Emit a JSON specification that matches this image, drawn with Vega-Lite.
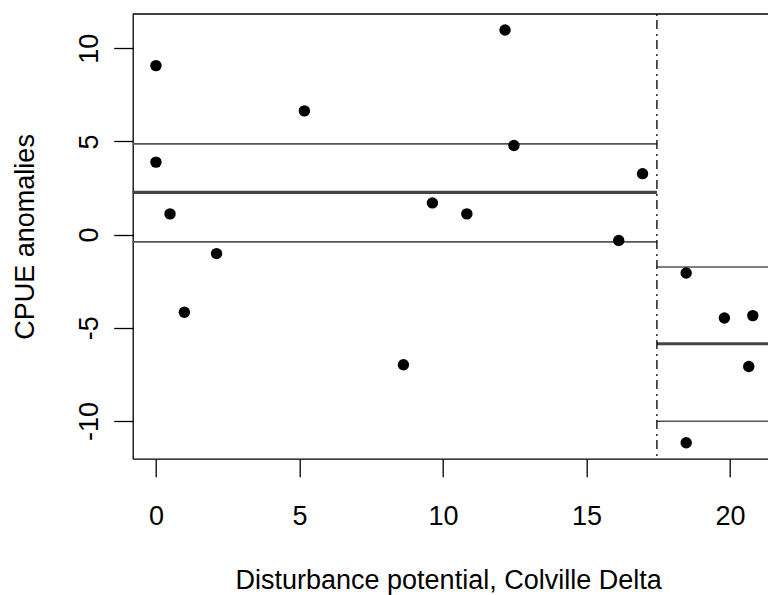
{
  "$schema": "https://vega.github.io/schema/vega-lite/v6.json",
  "width": 635.3,
  "height": 444.7,
  "autosize": "none",
  "padding": {"left": 132.7, "top": 14, "right": 0, "bottom": 136.3},
  "background": "white",
  "config": {
    "view": {"stroke": null},
    "font": "Liberation Sans",
    "axis": {
      "grid": false,
      "domainColor": "black",
      "domainWidth": 1.3,
      "tickColor": "black",
      "tickWidth": 1.3,
      "labelColor": "black",
      "labelFontSize": 27,
      "labelFlush": false,
      "labelOverlap": false,
      "titleColor": "black",
      "titleFontSize": 27,
      "titleFontWeight": "normal"
    }
  },
  "datasets": {
    "points": [
      {"potential": 0.0, "cpue": 9.07},
      {"potential": 0.0, "cpue": 3.89},
      {"potential": 0.49, "cpue": 1.11},
      {"potential": 0.99, "cpue": -4.17},
      {"potential": 2.11, "cpue": -1.02},
      {"potential": 5.17, "cpue": 6.64},
      {"potential": 8.62, "cpue": -6.99},
      {"potential": 9.63, "cpue": 1.70},
      {"potential": 10.83, "cpue": 1.11},
      {"potential": 12.16, "cpue": 10.98},
      {"potential": 12.47, "cpue": 4.78},
      {"potential": 16.12, "cpue": -0.32},
      {"potential": 16.95, "cpue": 3.27},
      {"potential": 18.47, "cpue": -2.06},
      {"potential": 18.47, "cpue": -11.17},
      {"potential": 19.80, "cpue": -4.48},
      {"potential": 20.65, "cpue": -7.08},
      {"potential": 20.79, "cpue": -4.35}
    ],
    "segments": [
      {"period": "before", "stat": "mean", "from": -0.81, "to": 17.45, "value": 2.27},
      {"period": "before", "stat": "bound", "from": -0.81, "to": 17.45, "value": 4.87},
      {"period": "before", "stat": "bound", "from": -0.81, "to": 17.45, "value": -0.39},
      {"period": "after", "stat": "mean", "from": 17.45, "to": 21.32, "value": -5.86},
      {"period": "after", "stat": "bound", "from": 17.45, "to": 21.32, "value": -1.74},
      {"period": "after", "stat": "bound", "from": 17.45, "to": 21.32, "value": -10.02}
    ],
    "breaks": [{"potential": 17.45}],
    "frame": [{"cpue": 11.84}]
  },
  "layer": [
    {
      "data": {"name": "frame"},
      "mark": {"type": "rule", "color": "black", "strokeWidth": 1.3},
      "encoding": {
        "y": {"field": "cpue", "type": "quantitative"}
      }
    },
    {
      "data": {"name": "segments"},
      "transform": [{"filter": "datum.stat === 'bound'"}],
      "mark": {"type": "rule", "color": "#555555", "strokeWidth": 1.6},
      "encoding": {
        "x": {"field": "from", "type": "quantitative"},
        "x2": {"field": "to"},
        "y": {"field": "value", "type": "quantitative"}
      }
    },
    {
      "data": {"name": "segments"},
      "transform": [{"filter": "datum.stat === 'mean'"}],
      "mark": {"type": "rule", "color": "#444444", "strokeWidth": 3.2},
      "encoding": {
        "x": {"field": "from", "type": "quantitative"},
        "x2": {"field": "to"},
        "y": {"field": "value", "type": "quantitative"}
      }
    },
    {
      "data": {"name": "breaks"},
      "mark": {"type": "rule", "color": "black", "strokeWidth": 1.3, "strokeDash": [2, 4, 9, 5]},
      "encoding": {
        "x": {"field": "potential", "type": "quantitative"}
      }
    },
    {
      "data": {"name": "points"},
      "mark": {"type": "circle", "color": "black", "opacity": 1, "size": 130},
      "encoding": {
        "x": {
          "field": "potential",
          "type": "quantitative",
          "scale": {"domain": [-0.81, 21.32], "nice": false, "zero": false},
          "axis": {
            "title": "Disturbance potential, Colville Delta",
            "values": [0, 5, 10, 15, 20],
            "labelExpr": "toString(datum.value)",
            "tickSize": 18,
            "labelBaseline": "alphabetic",
            "labelPadding": 48,
            "titleX": 102.3,
            "titleY": 129.6,
            "titleAlign": "left",
            "titleBaseline": "alphabetic",
            "titleAnchor": null
          }
        },
        "y": {
          "field": "cpue",
          "type": "quantitative",
          "scale": {"domain": [-12.03, 11.84], "nice": false, "zero": false},
          "axis": {
            "title": "CPUE anomalies",
            "values": [-10, -5, 0, 5, 10],
            "labelExpr": "toString(datum.value)",
            "tickSize": 19,
            "labelAngle": -90,
            "labelAlign": "center",
            "labelBaseline": "alphabetic",
            "labelPadding": 16.7,
            "titleAngle": 270,
            "titleX": -99.7,
            "titleY": 222.4,
            "titleAlign": "center",
            "titleBaseline": "alphabetic"
          }
        }
      }
    }
  ]
}
